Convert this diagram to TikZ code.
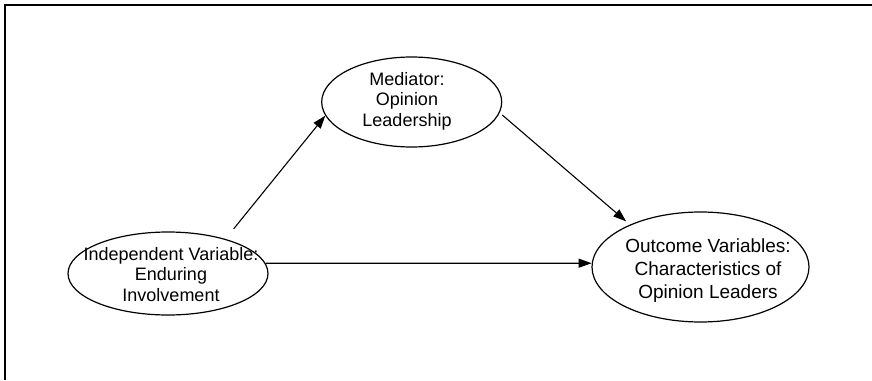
\documentclass[tikz,border=0pt]{standalone}
\usepackage{fontspec}
\setmainfont{Liberation Sans}
\usetikzlibrary{shapes.geometric,arrows.meta}
\begin{document}
\begin{tikzpicture}[x=1pt,y=-1pt,
  construct/.style={draw, ellipse, line width=1.2pt, inner sep=0pt},
  caption/.style={align=center, inner sep=0pt, anchor=north},
  smalltext/.style={font=\fontsize{18}{20.4}\selectfont},
  largetext/.style={font=\fontsize{19}{23.3}\selectfont},
  path/.style={line width=1.1pt, -{Triangle[length=13pt,width=9pt]}}]
  \useasboundingbox (0,0) rectangle (872,380);
  % open frame: left and top edges
  \draw[line width=1.6pt] (5,380) -- (5,5) -- (872,5);

  % constructs
  \node[construct, minimum width=200pt, minimum height=83pt] (ind) at (168,273.5) {};
  \node[construct, minimum width=180pt, minimum height=90pt] (med) at (411.7,102) {};
  \node[construct, minimum width=217pt, minimum height=110pt] (out) at (700.5,267) {};

  % labels
  \node[caption, smalltext] (indtext) at (171,247.3) {Independent Variable:\\Enduring\\Involvement};
  \node[caption, smalltext] (medtext) at (407,72.3) {Mediator:\\Opinion\\Leadership};
  \node[caption, largetext] (outtext) at (708,238.3) {Outcome Variables:\\Characteristics of\\Opinion Leaders};

  % paths
  \draw[path, shorten <=13pt] (ind.31) -- (med.189);
  \draw[path, shorten <=3.4pt, shorten >=5pt] (med.353) -- (out.149);
  \draw[path] (ind.6) -- (out.178);
\end{tikzpicture}
\end{document}
